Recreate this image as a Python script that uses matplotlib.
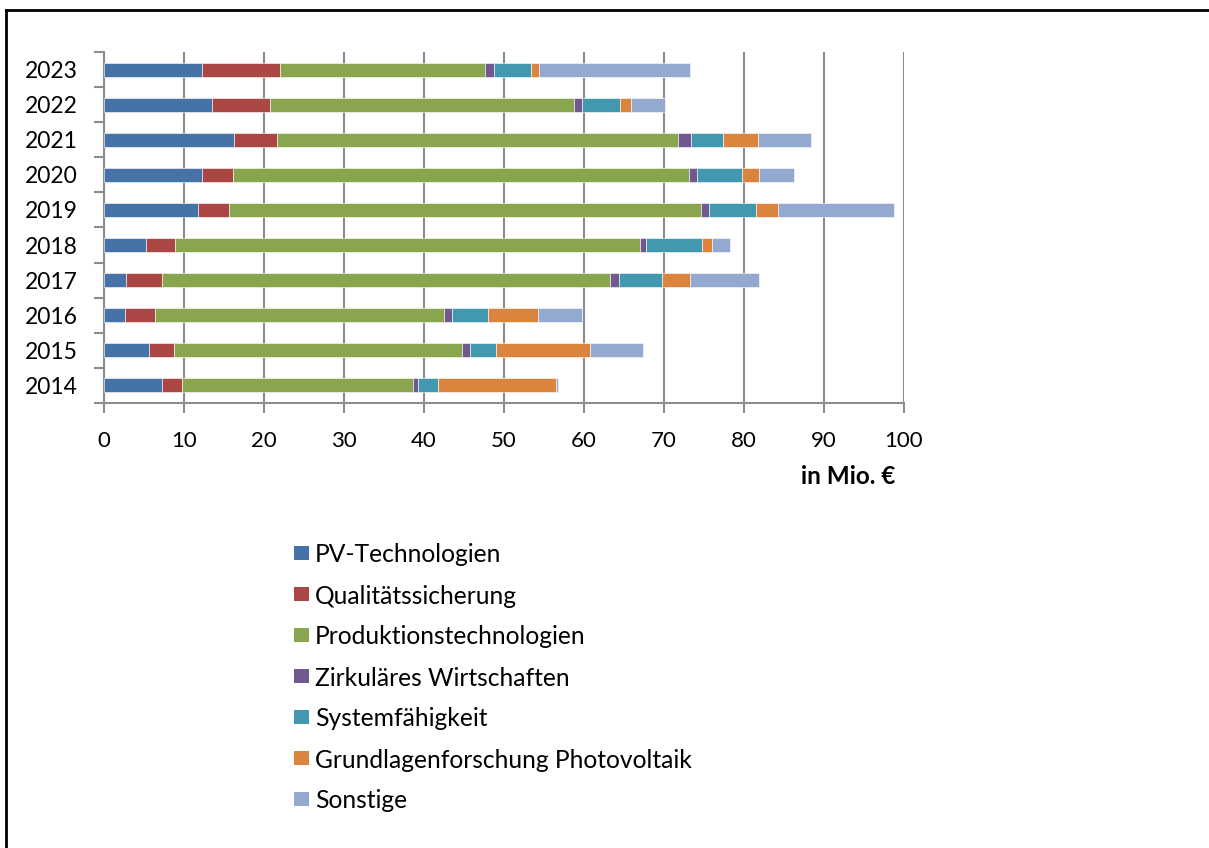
import matplotlib
matplotlib.use("Agg")
import matplotlib.pyplot as plt
from matplotlib.patches import Rectangle
import numpy as np

plt.rcParams['font.family'] = ['Lato', 'DejaVu Sans']

years = ["2014", "2015", "2016", "2017", "2018", "2019", "2020", "2021", "2022", "2023"]
series_names = ["PV-Technologien", "Qualitätssicherung", "Produktionstechnologien",
                "Zirkuläres Wirtschaften", "Systemfähigkeit",
                "Grundlagenforschung Photovoltaik", "Sonstige"]
pv_tech      = [7.2, 5.6, 2.6, 2.7, 5.2, 11.7, 12.3, 16.3, 13.5, 12.3]
qualitaet    = [2.6, 3.1, 3.8, 4.6, 3.7, 3.9, 3.8, 5.3, 7.25, 9.7]
produktion   = [28.8, 36.1, 36.1, 55.95, 58.1, 59.0, 57.0, 50.1, 37.95, 25.6]
zirkulaer    = [0.65, 0.9, 1.0, 1.15, 0.8, 1.0, 1.0, 1.7, 1.05, 1.15]
system       = [2.45, 3.3, 4.5, 5.4, 6.9, 5.9, 5.6, 4.0, 4.75, 4.65]
grundlagen   = [14.8, 11.7, 6.25, 3.5, 1.3, 2.8, 2.2, 4.4, 1.4, 1.0]
sonstige     = [0.3, 6.7, 5.5, 8.6, 2.25, 14.4, 4.3, 6.6, 4.2, 18.9]
colors = ["#4572A7", "#AA4643", "#89A54E", "#71588F", "#4198AF", "#DB843D", "#93A9CF"]
xticks = [0, 10, 20, 30, 40, 50, 60, 70, 80, 90, 100]
xlabel = "in Mio. €"

W, H = 1209, 848
fig = plt.figure(figsize=(W / 100, H / 100), dpi=100)

def fx(px):
    return px / W

def fy(py):
    return 1 - py / H

ax = fig.add_axes([fx(104), fy(403), fx(904) - fx(104), fy(52) - fy(403)])

data = [pv_tech, qualitaet, produktion, zirkulaer, system, grundlagen, sonstige]
ypos = np.arange(len(years))
left = np.zeros(len(years))
for vals, col, name in zip(data, colors, series_names):
    v = np.array(vals)
    ax.barh(ypos, v, left=left, height=0.4, color=col, edgecolor="#ffffff",
            linewidth=0.4, label=name, zorder=3)
    left += v

gridc = "#8c8c8c"
ax.set_xlim(0, 100)
ax.set_ylim(-0.5, len(years) - 0.5)
ax.set_xticks(xticks)
ax.set_xticklabels([str(t) for t in xticks], fontsize=16)
ax.set_yticks(ypos)
ax.set_yticklabels(years, fontsize=16.5)
ax.set_yticks(np.arange(-0.5, len(years), 1.0), minor=True)
ax.tick_params(axis='y', which='major', length=0, pad=19)
ax.tick_params(axis='y', which='minor', length=7, width=1.5, color=gridc, direction='out')
ax.tick_params(axis='x', which='major', length=7, width=1.5, color=gridc, direction='out', pad=13)
ax.grid(axis='x', color=gridc, linewidth=1.5, zorder=0)
ax.set_axisbelow(True)
for s in ['top', 'right']:
    ax.spines[s].set_visible(False)
for s in ['left', 'bottom']:
    ax.spines[s].set_color(gridc)
    ax.spines[s].set_linewidth(1.5)

fig.text(fx(848), fy(477), xlabel, fontsize=17.5, fontweight='bold', ha='center', va='center')

# Legend
leg_y0 = 553
leg_dy = 41
for i, (name, col) in enumerate(zip(series_names, colors)):
    cy = leg_y0 + i * leg_dy
    fig.patches.append(Rectangle((fx(294), fy(cy + 7)), fx(15), fy(cy - 7) - fy(cy + 7),
                                 transform=fig.transFigure, facecolor=col, edgecolor='none'))
    fig.text(fx(315), fy(cy), name, fontsize=17.7, ha='left', va='center_baseline')

# Frame
fig.add_artist(plt.Line2D([fx(6), fx(6)], [fy(10), 0], transform=fig.transFigure,
                          color='black', linewidth=2))
fig.add_artist(plt.Line2D([fx(6), 1], [fy(10), fy(10)], transform=fig.transFigure,
                          color='black', linewidth=2))

fig.savefig("out.png", dpi=100)
